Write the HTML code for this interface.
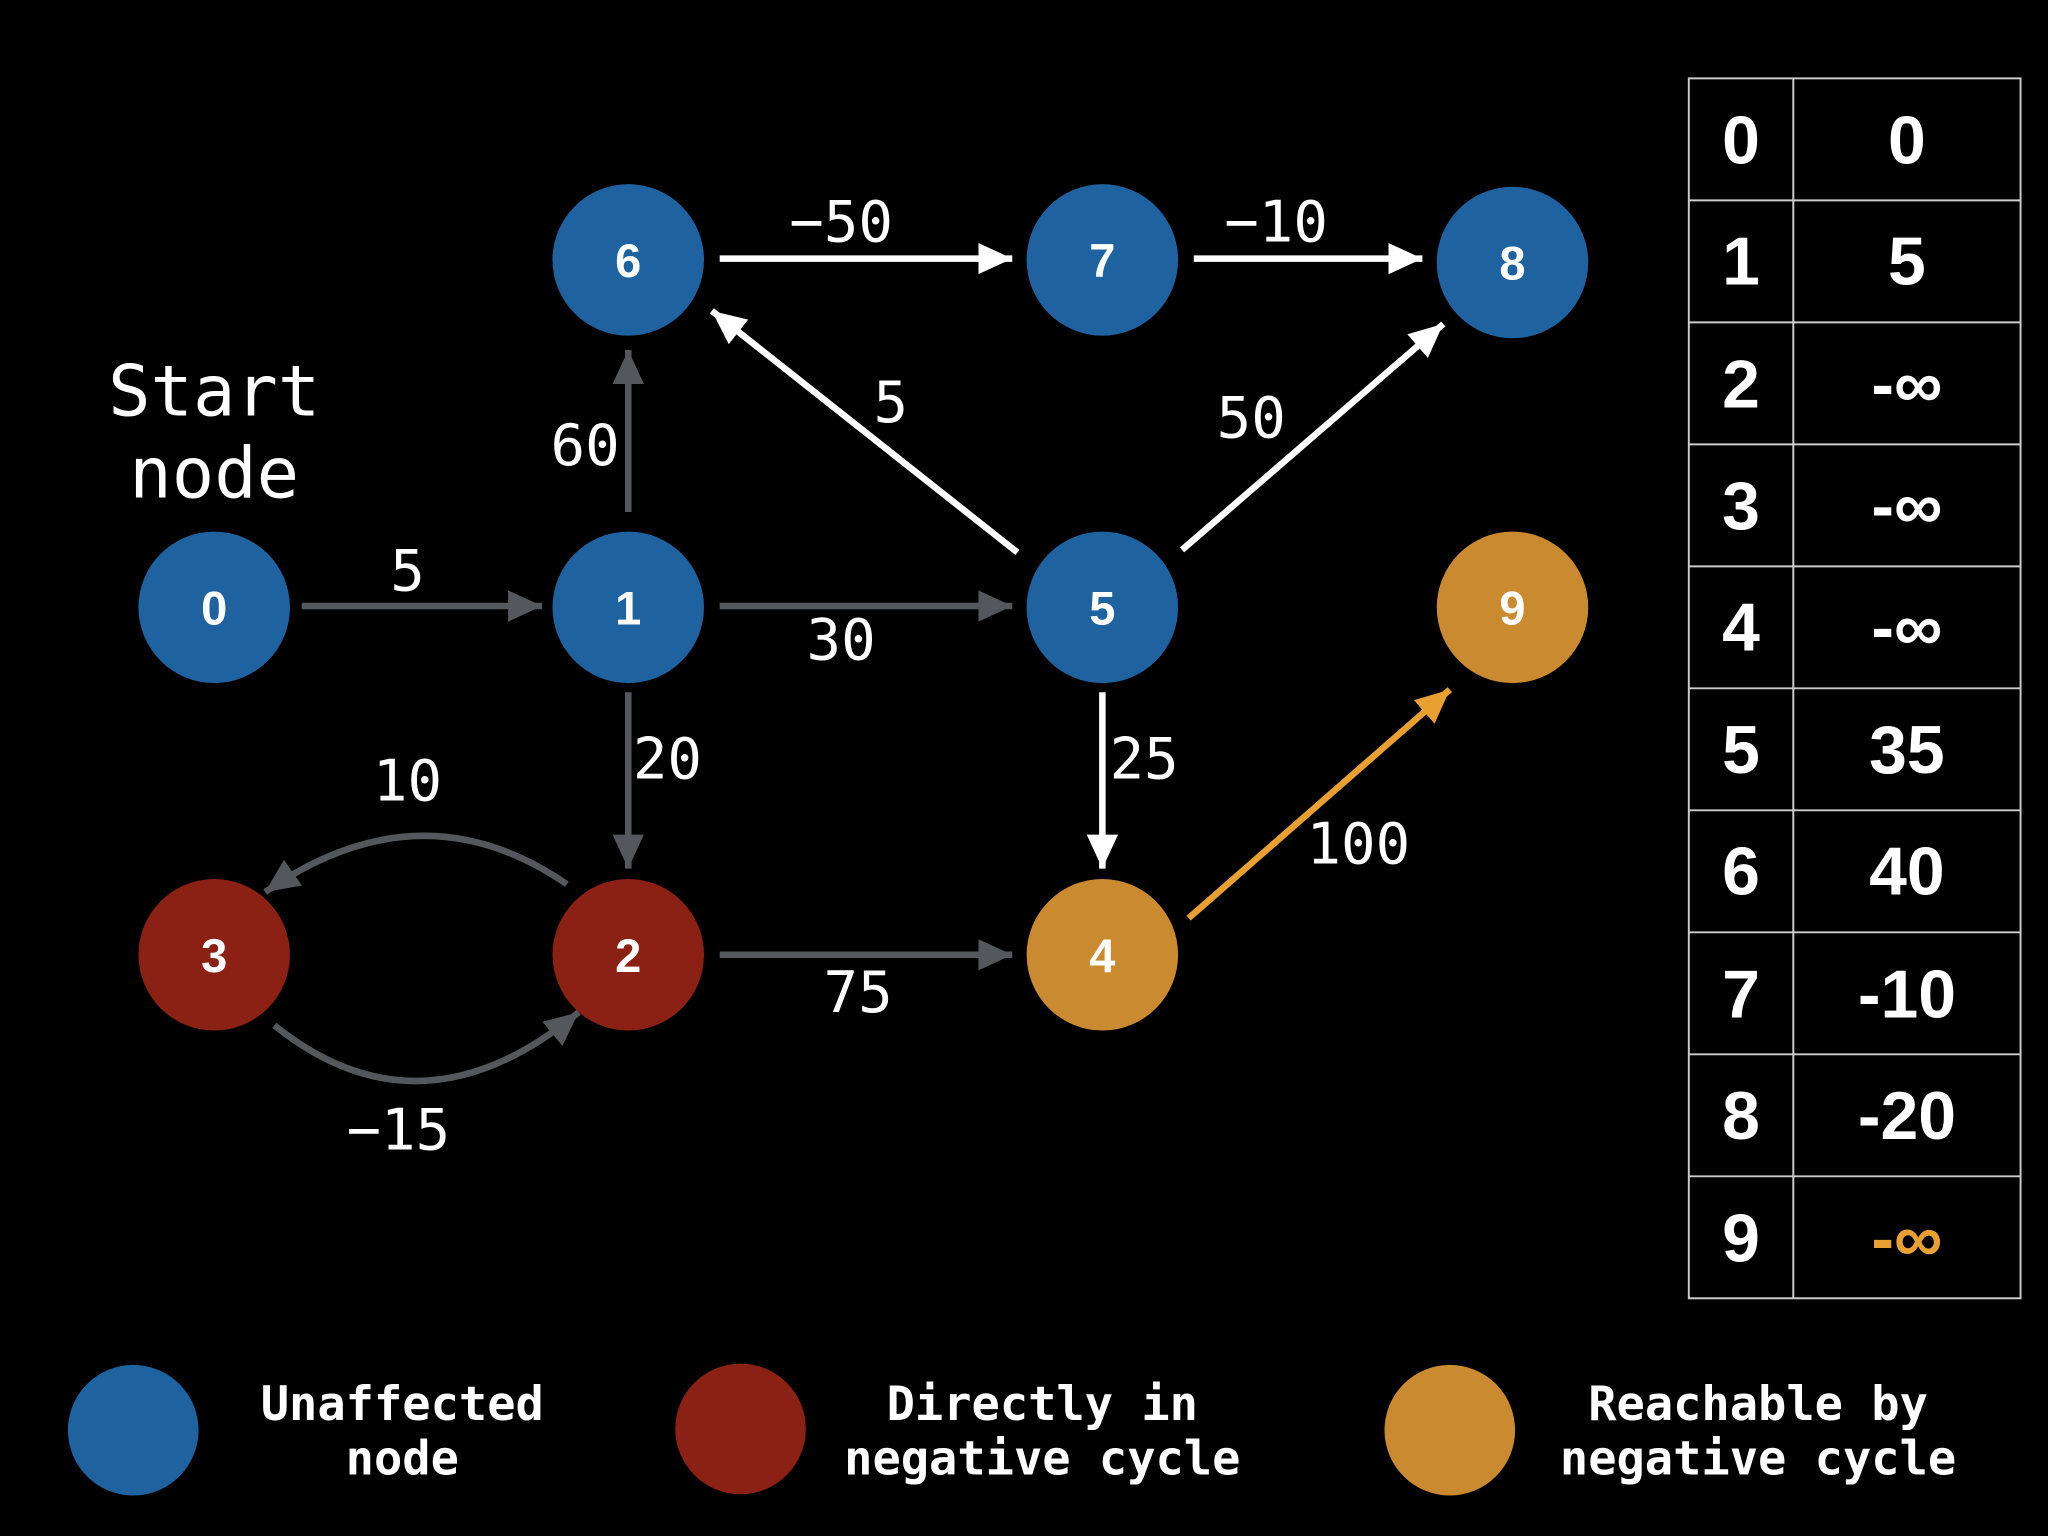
<!DOCTYPE html>
<html><head><meta charset="utf-8"><style>
html,body{margin:0;padding:0;background:#000;}
svg{display:block;}
.m{font-family:"DejaVu Sans Mono","Liberation Mono",monospace;fill:#fff;}
.b{font-family:"Liberation Sans",sans-serif;font-weight:bold;fill:#fff;}
</style></head><body>
<svg width="2048" height="1536" viewBox="0 0 1568 1176" xmlns="http://www.w3.org/2000/svg">
<rect width="1568" height="1176" fill="#000"/>
<defs>
<marker id="ag" markerUnits="userSpaceOnUse" markerWidth="30" markerHeight="30" refX="26" refY="12" orient="auto"><polygon points="0,0 26,12 0,24" fill="#54585d"/></marker>
<marker id="aw" markerUnits="userSpaceOnUse" markerWidth="30" markerHeight="30" refX="26" refY="12" orient="auto"><polygon points="0,0 26,12 0,24" fill="#fff"/></marker>
<marker id="ao" markerUnits="userSpaceOnUse" markerWidth="30" markerHeight="30" refX="26" refY="12" orient="auto"><polygon points="0,0 26,12 0,24" fill="#e8a030"/></marker>
</defs>
<g stroke-width="5" fill="none">
<line x1="231" y1="464" x2="415" y2="464" stroke="#54585d" marker-end="url(#ag)"/>
<line x1="551" y1="464" x2="775" y2="464" stroke="#54585d" marker-end="url(#ag)"/>
<line x1="481" y1="392" x2="481" y2="268" stroke="#54585d" marker-end="url(#ag)"/>
<line x1="481" y1="530" x2="481" y2="665" stroke="#54585d" marker-end="url(#ag)"/>
<line x1="551" y1="731" x2="775" y2="731" stroke="#54585d" marker-end="url(#ag)"/>
<path d="M434,677 Q322,600 203,683" stroke="#54585d" marker-end="url(#ag)"/>
<path d="M210,785 Q322,875 443,775" stroke="#54585d" marker-end="url(#ag)"/>
<line x1="551" y1="198" x2="775" y2="198" stroke="#fff" marker-end="url(#aw)"/>
<line x1="914" y1="198" x2="1089" y2="198" stroke="#fff" marker-end="url(#aw)"/>
<line x1="779" y1="423" x2="545" y2="238" stroke="#fff" marker-end="url(#aw)"/>
<line x1="905" y1="421" x2="1105" y2="248" stroke="#fff" marker-end="url(#aw)"/>
<line x1="844" y1="530" x2="844" y2="665" stroke="#fff" marker-end="url(#aw)"/>
<line x1="910" y1="703" x2="1110" y2="528" stroke="#e8a030" marker-end="url(#ao)"/>
</g>
<g class="m" font-size="44" text-anchor="middle">
<text x="312" y="452">5</text>
<text x="644" y="505">30</text>
<text x="448" y="356">60</text>
<text x="511" y="596">20</text>
<text x="644" y="185">−50</text>
<text x="977" y="185">−10</text>
<text x="682" y="323">5</text>
<text x="958" y="335">50</text>
<text x="876" y="596">25</text>
<text x="657" y="775">75</text>
<text x="1040" y="661">100</text>
<text x="312" y="613">10</text>
<text x="305" y="880">−15</text>
<text x="164" y="318" font-size="54">Start</text>
<text x="164" y="381" font-size="54">node</text>
</g>
<g>
<circle cx="164" cy="465" r="58" fill="#1f62a0"/>
<circle cx="481" cy="465" r="58" fill="#1f62a0"/>
<circle cx="844" cy="465" r="58" fill="#1f62a0"/>
<circle cx="1158" cy="465" r="58" fill="#c98a30"/>
<circle cx="481" cy="199" r="58" fill="#1f62a0"/>
<circle cx="844" cy="199" r="58" fill="#1f62a0"/>
<circle cx="1158" cy="201" r="58" fill="#1f62a0"/>
<circle cx="164" cy="731" r="58" fill="#8b2014"/>
<circle cx="481" cy="731" r="58" fill="#8b2014"/>
<circle cx="844" cy="731" r="58" fill="#c98a30"/>
</g>
<g class="b" font-size="36" text-anchor="middle">
<text x="164" y="478">0</text><text x="481" y="478">1</text><text x="844" y="478">5</text><text x="1158" y="478">9</text>
<text x="481" y="212">6</text><text x="844" y="212">7</text><text x="1158" y="214">8</text>
<text x="164" y="744">3</text><text x="481" y="744">2</text><text x="844" y="744">4</text>
</g>
<g stroke="#ccc" stroke-width="1.5" fill="none">
<rect x="1293" y="60" width="254" height="934"/>
<line x1="1373" y1="60" x2="1373" y2="994"/>
<line x1="1293" y1="153.4" x2="1547" y2="153.4"/><line x1="1293" y1="246.8" x2="1547" y2="246.8"/>
<line x1="1293" y1="340.2" x2="1547" y2="340.2"/><line x1="1293" y1="433.6" x2="1547" y2="433.6"/>
<line x1="1293" y1="527" x2="1547" y2="527"/><line x1="1293" y1="620.4" x2="1547" y2="620.4"/>
<line x1="1293" y1="713.8" x2="1547" y2="713.8"/><line x1="1293" y1="807.2" x2="1547" y2="807.2"/>
<line x1="1293" y1="900.6" x2="1547" y2="900.6"/>
</g>
<g class="b" font-size="52" text-anchor="middle">
<text x="1333" y="125">0</text><text x="1460" y="125">0</text>
<text x="1333" y="218">1</text><text x="1460" y="218">5</text>
<text x="1333" y="312">2</text><text x="1460" y="312">-∞</text>
<text x="1333" y="405">3</text><text x="1460" y="405">-∞</text>
<text x="1333" y="498">4</text><text x="1460" y="498">-∞</text>
<text x="1333" y="592">5</text><text x="1460" y="592">35</text>
<text x="1333" y="685">6</text><text x="1460" y="685">40</text>
<text x="1333" y="779">7</text><text x="1460" y="779">-10</text>
<text x="1333" y="872">8</text><text x="1460" y="872">-20</text>
<text x="1333" y="966">9</text><text x="1460" y="966" fill="#e8a030" style="fill:#e8a030">-∞</text>
</g>
<circle cx="102" cy="1095" r="50" fill="#1f62a0"/>
<circle cx="567" cy="1094" r="50" fill="#8b2014"/>
<circle cx="1110" cy="1095" r="50" fill="#c98a30"/>
<g class="m" font-size="36" font-weight="bold" text-anchor="middle">
<text x="308" y="1087">Unaffected</text><text x="308" y="1129">node</text>
<text x="798" y="1087">Directly in</text><text x="798" y="1129">negative cycle</text>
<text x="1346" y="1087">Reachable by</text><text x="1346" y="1129">negative cycle</text>
</g>
</svg>
</body></html>
